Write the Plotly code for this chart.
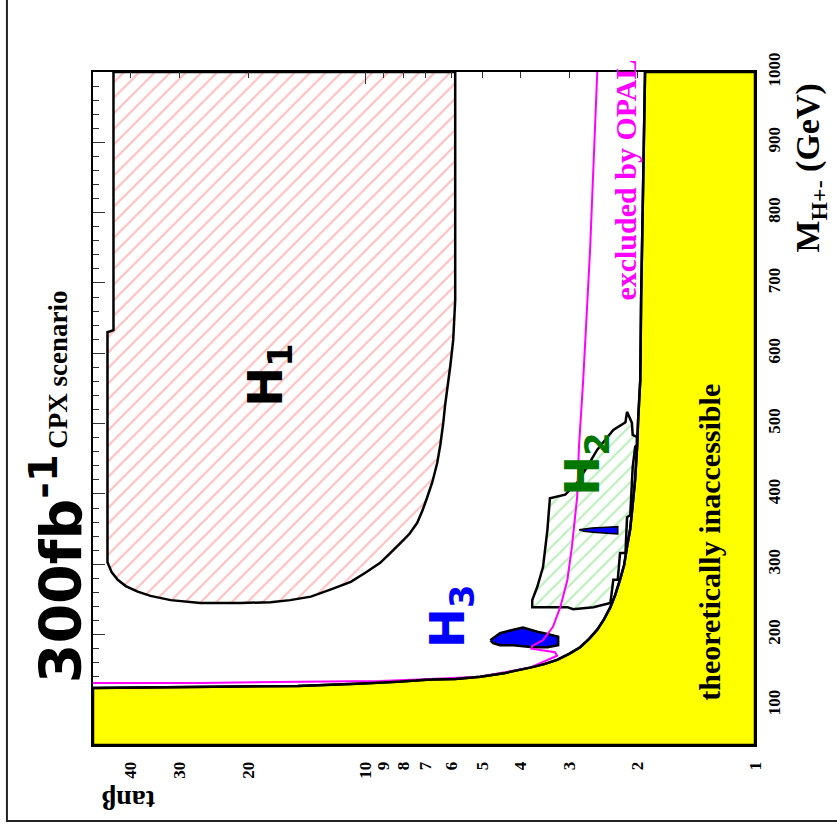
import math
import plotly.graph_objects as go

# ---------------- data ----------------
# boundary of the "theoretically inaccessible" region (tan beta, M_H+-)
edge_tanb = [1.915, 1.94, 1.96, 1.97, 1.995, 2.007, 2.031, 2.07, 2.092, 2.13, 2.167,
             2.22, 2.286, 2.35, 2.439, 2.54, 2.665, 2.81, 3.0, 3.22, 3.476, 3.78,
             4.375, 5.07, 5.88, 6.81, 8.28, 10.5, 14.9, 24.5, 50]
edge_mass = [1000, 818, 676, 562, 505, 467, 420, 373, 349, 325, 299,
             278, 256, 239, 222, 207, 194, 182, 172.5, 164, 158, 153,
             145.5, 140, 137, 136, 133, 130, 127, 126, 124]
corner_tanb = [50, 1, 1]
corner_mass = [43, 43, 1000]
yellow_tanb = edge_tanb + corner_tanb + [edge_tanb[0]]
yellow_mass = edge_mass + corner_mass + [edge_mass[0]]

# H1 discovery region
h1_tanb = [44.3, 5.88, 5.88, 5.95, 6.05, 6.12, 6.24, 6.31, 6.42, 6.54, 6.73, 6.93,
           7.14, 7.36, 7.71, 8.13, 8.63, 9.16, 10.0, 10.9, 12.3, 13.8, 15.6, 17.5,
           20.9, 26.5, 31.6, 35.6, 38.4, 41.2, 43.2, 44.8, 45.6, 45.9, 45.9, 44.3, 44.3]
h1_mass = [1000, 1000, 676, 619, 583, 562, 527, 501, 470, 444, 417, 396,
           376, 359, 343, 330, 316, 302, 288, 275, 264, 254, 249, 246,
           245, 245, 249, 255, 261, 269, 278, 289, 299, 303, 630, 633, 1000]

# H2 discovery region
h2_tanb = [2.13, 2.15, 2.31, 2.39, 2.54, 2.70, 2.86, 3.07, 3.36, 3.41, 3.50, 3.62,
           3.73, 3.73, 3.41, 3.03, 2.93, 2.60, 2.35, 2.31, 2.25, 2.22, 2.15, 2.13,
           2.09, 2.06, 2.03, 2.01, 2.01, 2.06, 2.07, 2.13]
h2_mass = [517, 502, 491, 481, 463, 438, 416, 399, 394, 349, 296, 268,
           249, 239, 239, 239, 236, 239, 245, 278, 278, 316, 316, 367,
           370, 438, 467, 470, 481, 484, 501, 517]

# H3 discovery regions
h3_tanb = [4.78, 4.51, 4.17, 3.94, 3.62, 3.41, 3.20, 3.20, 3.41, 3.71, 4.17, 4.51, 4.70, 4.78]
h3_mass = [192, 202, 207, 210, 204, 201, 197, 185, 182, 182, 185, 185, 188, 192]
h3b_tanb = [2.83, 2.62, 2.40, 2.25, 2.25, 2.40, 2.60, 2.75, 2.83]
h3b_mass = [349, 351.5, 352.5, 353.5, 343, 344, 345.5, 347, 349]

# OPAL exclusion line
opal_tanb = [2.54, 2.65, 2.76, 2.83, 2.86, 2.95, 3.03, 3.16, 3.30, 3.50, 3.73, 3.75,
             3.45, 3.26, 3.22, 3.78, 5.07, 6.81, 9.16, 14.7, 26.5, 50]
opal_mass = [1000, 747, 562, 467, 396, 325, 278, 239, 211, 192, 184, 180,
             177, 175, 170, 153, 140, 137, 134, 133, 131, 131]

# ticks
tanb_labels = [1, 2, 3, 4, 5, 6, 7, 8, 9, 10, 20, 30, 40]
tanb_major = [10]
tanb_minor = [2, 3, 4, 5, 6, 7, 8, 9, 20, 30, 40]
mass_labels = [100, 200, 300, 400, 500, 600, 700, 800, 900, 1000]
mass_major = [200, 300, 400, 500, 600, 700, 800, 900]
mass_minor = [140, 160, 180, 220, 240, 260, 280, 320, 340, 360, 380, 420, 440, 460, 480,
              520, 540, 560, 580, 620, 640, 660, 680, 720, 740, 760, 780, 820, 840, 860,
              880, 920, 940, 960, 980]

SERIF = "Liberation Serif"
SANS = "DejaVu Sans"
LW = 2.5

fig = go.Figure()
fig.add_trace(go.Scatter(x=yellow_tanb, y=yellow_mass, mode="lines", fill="toself",
                         fillcolor="#ffff00", line=dict(color="black", width=LW, simplify=False),
                         hoverinfo="skip", showlegend=False))
fig.add_trace(go.Scatter(x=h1_tanb, y=h1_mass, mode="lines", fill="toself",
                         fillcolor="rgba(0,0,0,0)",
                         fillpattern=dict(shape="/", fgcolor="#ff8080", bgcolor="rgba(0,0,0,0)",
                                          size=11, solidity=0.2),
                         line=dict(color="black", width=LW, simplify=False),
                         hoverinfo="skip", showlegend=False))
fig.add_trace(go.Scatter(x=h2_tanb, y=h2_mass, mode="lines", fill="toself",
                         fillcolor="rgba(0,0,0,0)",
                         fillpattern=dict(shape="/", fgcolor="#7ee07e", bgcolor="rgba(0,0,0,0)",
                                          size=10, solidity=0.22),
                         line=dict(color="black", width=LW, simplify=False),
                         hoverinfo="skip", showlegend=False))
fig.add_trace(go.Scatter(x=h3_tanb, y=h3_mass, mode="lines", fill="toself",
                         fillcolor="#0000ff", line=dict(color="black", width=LW, simplify=False),
                         hoverinfo="skip", showlegend=False))
fig.add_trace(go.Scatter(x=h3b_tanb, y=h3b_mass, mode="lines", fill="toself",
                         fillcolor="#0000ff", line=dict(color="black", width=1.5, simplify=False),
                         hoverinfo="skip", showlegend=False))
fig.add_trace(go.Scatter(x=opal_tanb, y=opal_mass, mode="lines",
                         line=dict(color="#ff00ff", width=2, simplify=False),
                         hoverinfo="skip", showlegend=False))
fig.add_trace(go.Scatter(x=edge_tanb, y=edge_mass, mode="lines", xaxis="x2", yaxis="y2",
                         line=dict(color="black", width=LW, simplify=False),
                         hoverinfo="skip", showlegend=False))

tickfont = dict(family=SERIF, size=17, color="black", weight="bold")

fig.update_layout(
    width=837, height=835,
    margin=dict(l=93, r=82, t=72, b=90),
    paper_bgcolor="white", plot_bgcolor="white",
    xaxis=dict(type="log", range=[math.log10(50), 0], tickmode="array",
               tickvals=tanb_labels, ticktext=[str(v) for v in tanb_labels],
               tickangle=-90, ticks="", tickfont=tickfont, ticklabelstandoff=8,
               showline=True, mirror=True, linecolor="black", linewidth=2,
               showgrid=False, zeroline=False),
    yaxis=dict(range=[43, 1000], side="right", tickmode="array",
               tickvals=mass_labels, ticktext=[str(v) for v in mass_labels],
               tickangle=-90, ticks="", tickfont=tickfont, ticklabelstandoff=3,
               showline=True, mirror=True, linecolor="black", linewidth=2,
               showgrid=False, zeroline=False),
    xaxis2=dict(type="log", overlaying="x", matches="x", side="top",
                tickmode="array", tickvals=tanb_major, ticks="inside", ticklen=12,
                tickcolor="#333", tickwidth=1, showticklabels=False,
                minor=dict(tickmode="array", tickvals=tanb_minor, ticks="inside",
                           ticklen=6, tickcolor="#333", tickwidth=1, showgrid=False),
                showgrid=False, zeroline=False, showline=False),
    yaxis2=dict(overlaying="y", matches="y", side="left",
                tickmode="array", tickvals=mass_major, ticks="inside", ticklen=12,
                tickcolor="#333", tickwidth=1, showticklabels=False,
                minor=dict(tickmode="array", tickvals=mass_minor, ticks="inside",
                           ticklen=6, tickcolor="#333", tickwidth=1, showgrid=False),
                showgrid=False, zeroline=False, showline=False),
    shapes=[dict(type="rect", xref="paper", yref="paper",
                 x0=-0.130, x1=1.13, y0=-0.113, y1=1.12,
                 line=dict(color="#222", width=2), fillcolor="rgba(0,0,0,0)", layer="below")],
)

ann = [
    dict(text="300fb<sup>-1</sup>", x=-0.055, y=0.262,
         font=dict(family=SANS, size=57, color="black", weight="bold")),
    dict(text="CPX scenario", x=-0.052, y=0.557,
         font=dict(family=SERIF, size=27, color="black", weight="bold")),
    dict(text="H<sub>1</sub>", x=0.266, y=0.55,
         font=dict(family=SANS, size=48, color="black", weight="bold")),
    dict(text="H<sub>2</sub>", x=0.743, y=0.4175,
         font=dict(family=SANS, size=48, color="#007700", weight="bold")),
    dict(text="H<sub>3</sub>", x=0.541, y=0.1917,
         font=dict(family=SANS, size=48, color="#0000ff", weight="bold")),
    dict(text="excluded by OPAL", x=0.803, y=0.8395,
         font=dict(family=SERIF, size=30, color="#ff00ff", weight="bold")),
    dict(text="theoretically inaccessible", x=0.93, y=0.3016,
         font=dict(family=SERIF, size=30, color="black", weight="bold")),
    dict(text="M<sub>H+-</sub> (GeV)", x=1.083, y=0.858,
         font=dict(family=SERIF, size=34, color="black", weight="bold")),
]
annotations = []
for a in ann:
    d = dict(xref="paper", yref="paper", showarrow=False, xanchor="center",
             yanchor="middle", textangle=-90)
    d.update(a)
    annotations.append(d)
annotations.append(dict(text="tanβ", x=0.053, y=-0.0817, xref="paper", yref="paper",
                        showarrow=False, xanchor="center", yanchor="middle", textangle=180,
                        font=dict(family=SERIF, size=28, color="black", weight="bold")))
fig.update_layout(annotations=annotations)

fig.write_html("out.html")
